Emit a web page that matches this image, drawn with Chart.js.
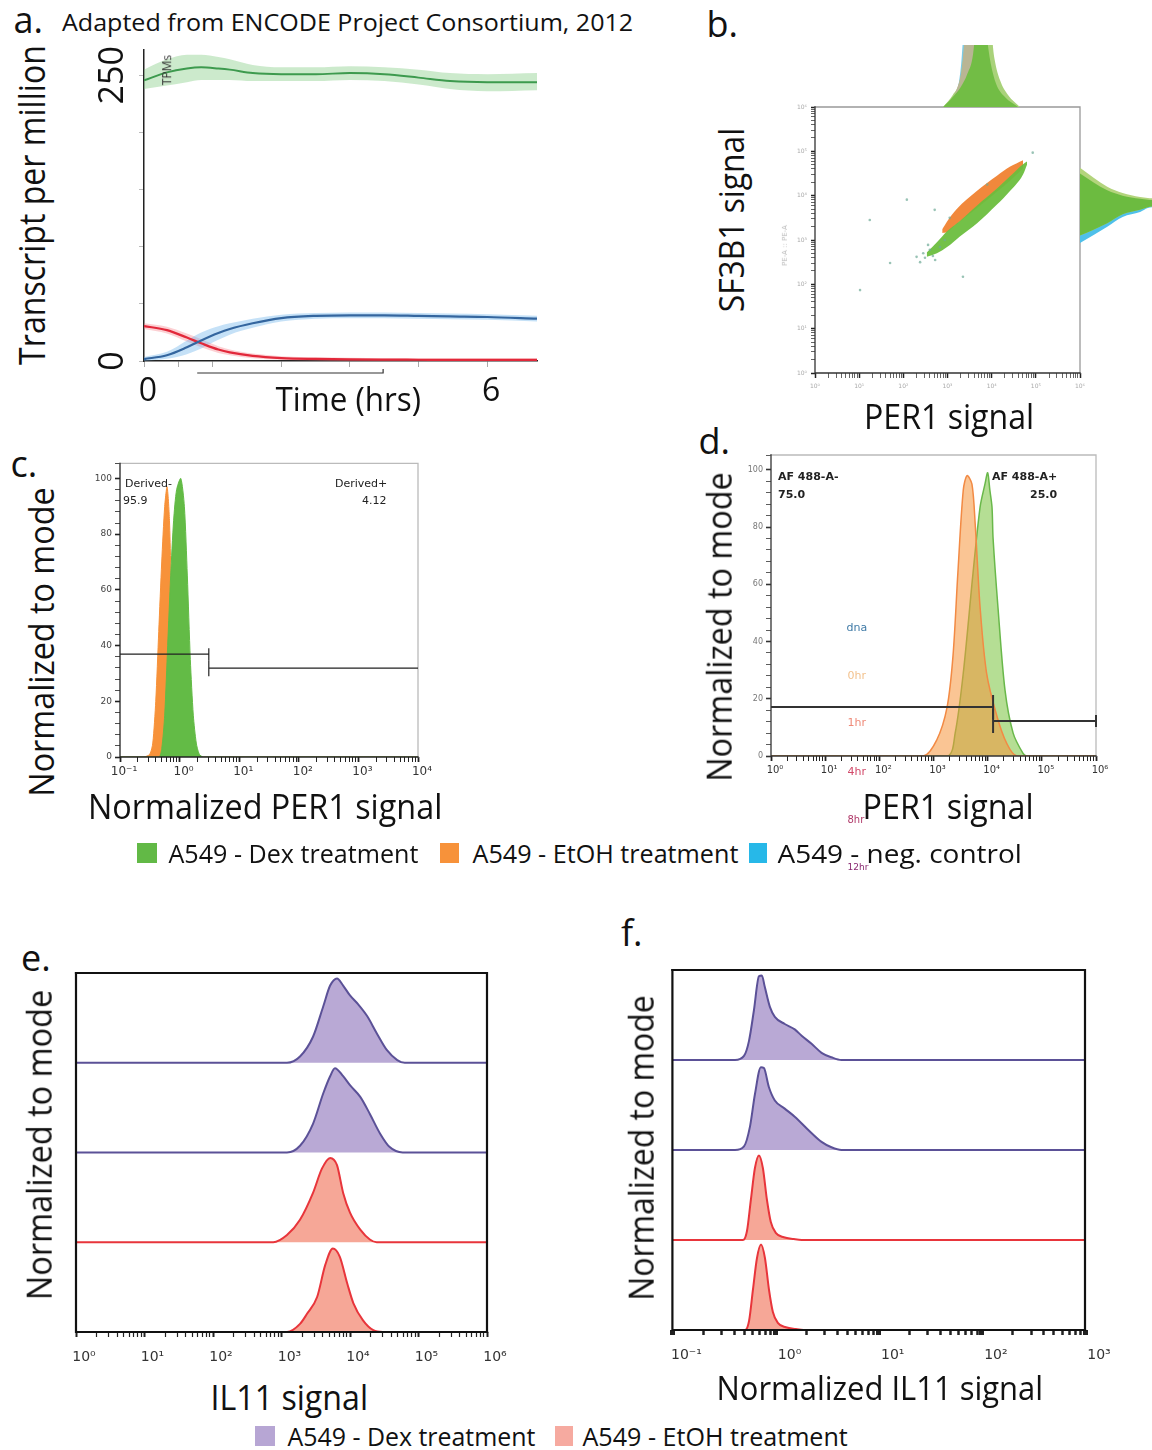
<!DOCTYPE html>
<html><head><meta charset="utf-8">
<script src="https://cdn.jsdelivr.net/npm/chart.js@4.4.0/dist/chart.umd.min.js"></script>
<style>
body{margin:0;background:#fff;width:1152px;height:1450px;position:relative;overflow:hidden;font-family:"Open Sans",sans-serif;color:#111}
canvas{position:absolute}
.t{position:absolute;white-space:nowrap;line-height:1;transform-origin:center center}
.sq{position:absolute}
</style></head><body>
<script>
// ---------- panel a : ENCODE time course (hrs vs TPM) ----------
const aTime     = [0, 0.4, 0.75, 1.0, 1.3, 1.5, 1.9, 2.4, 3.0, 3.6, 4.2, 4.8, 5.35, 6.0, 6.87];
const aGreen    = [245.6, 252.6, 256, 257, 256, 255, 252, 251, 251, 252, 251, 248, 245, 244, 244];
const aGreenHi  = [255, 264, 268, 268, 266, 264, 259, 257, 257, 258, 257, 255, 252, 251, 252];
const aGreenLo  = [238, 241, 244, 246, 246, 246, 245, 245, 245, 246, 245, 242, 238, 236, 237];
const aBlue     = [1.7, 5, 12, 18, 24.5, 28, 33, 37.5, 39.5, 40, 40, 39.5, 39, 38.5, 37];
const aBlueHi   = [3.5, 8, 18, 25, 30.5, 33, 37, 40.5, 42, 42.5, 42.5, 42, 41.5, 41, 39.5];
const aBlueLo   = [0, 2, 6, 11, 18.5, 23, 29, 34.5, 37, 37.5, 37.5, 37, 36.5, 36, 34.5];
const aRed      = [30.6, 27, 20.5, 15.5, 10, 7.5, 4.5, 2.6, 1.8, 1.4, 1.2, 1.1, 1, 1, 1];
const aRedHi    = [33, 30, 24, 19, 13, 10, 6.5, 4.2, 3.3, 2.8, 2.5, 2.4, 2.3, 2.3, 2.3];
const aRedLo    = [28, 24, 17, 12, 7, 5, 2.5, 1, 0.3, 0, 0, 0, 0, 0, 0];
const aTimeTicks = [0, 0.6, 1.2, 2.4, 3.6, 4.8, 6];
const aTimeLabels = {0: '0', 6: '6'};
const aTpmTicks  = [0, 50, 100, 150, 200, 250];
const aTpmLabels = [0, 250];
const aBracket   = [0.93, 4.18];

// ---------- panel b : SF3B1 vs PER1 (log10 exponents) ----------
const bGreenX   = [2.53, 2.76, 2.99, 3.28, 3.67, 4.12, 4.41, 4.71, 4.80];
const bGreenHi  = [2.72, 2.95, 3.20, 3.43, 3.78, 4.16, 4.43, 4.71, 4.77];
const bGreenLo  = [2.62, 2.70, 2.84, 3.08, 3.38, 3.80, 4.10, 4.48, 4.70];
const bOrangeX  = [2.88, 2.99, 3.21, 3.67, 4.12, 4.41, 4.71];
const bOrangeHi = [3.24, 3.42, 3.70, 4.11, 4.45, 4.65, 4.80];
const bOrangeLo = [3.16, 3.18, 3.36, 3.72, 4.09, 4.33, 4.61];
const bDotsX = [1.24, 1.70, 3.35, 1.02, 2.71, 2.08, 4.93, 2.49, 2.60, 2.38, 2.83, 2.67, 2.56, 2.94, 2.45, 2.72, 3.05, 3.9, 2.3];
const bDotsY = [3.45, 2.48, 2.17, 1.87, 3.68, 3.91, 4.97, 2.60, 2.78, 2.50, 2.84, 2.64, 2.89, 3.00, 2.70, 2.55, 3.5, 4.25, 2.62];
// top marginal: PER1 exponent vs relative height
const bTopEnvX  = [2.9, 3.12, 3.28, 3.35, 3.39, 3.6, 3.8, 3.97, 4.03, 4.07, 4.19, 4.37, 4.64];
const bTopEnvH  = [0, 0.18, 0.4, 0.7, 0.9, 1.5, 2.0, 1.5, 0.9, 0.7, 0.4, 0.18, 0];
const bTopBlueX = [3.1, 3.24, 3.31, 3.35, 3.45, 3.6];
const bTopBlueH = [0, 0.3, 0.65, 1.0, 1.4, 0];
const bTopTanX  = [3.0, 3.2, 3.33, 3.37, 3.42, 3.55, 3.7, 3.8, 3.9];
const bTopTanH  = [0, 0.25, 0.6, 0.9, 1.3, 2.0, 1.6, 0.5, 0];
const bTopGrnX  = [2.9, 3.12, 3.3, 3.45, 3.58, 3.65, 3.75, 3.85, 3.92, 3.98, 4.1, 4.3, 4.6];
const bTopGrnH  = [0, 0.15, 0.3, 0.5, 0.8, 1.3, 2.0, 1.3, 0.9, 0.65, 0.35, 0.15, 0];
// right marginal: relative height vs SF3B1 exponent (upper / lower edges)
const bRightH      = [0, 0.39, 0.61, 0.86, 0.97, 1.05];
const bRightEnvTop = [4.63, 4.2, 4.06, 3.97, 3.95, 3.94];
const bRightGrnTop = [4.5, 4.12, 4.0, 3.93, 3.91, 3.9];
const bRightGrnBot = [3.1, 3.38, 3.58, 3.68, 3.74, 3.76];
const bRightBluTop = [3.2, 3.45, 3.62, 3.7, 3.75, 3.77];
const bRightBluBot = [2.93, 3.30, 3.52, 3.63, 3.72, 3.74];

// ---------- panel c : normalized PER1 (exponent, % of mode) ----------
const cOrangeX = [-1, -0.6, -0.5, -0.45, -0.4, -0.35, -0.3, -0.25, -0.21, -0.17, -0.13, -0.1, -0.05, 0, 4];
const cOrangeY = [0, 0, 1, 5, 20, 45, 70, 90, 97, 85, 50, 20, 5, 0, 0];
const cGreenX  = [-1, -0.35, -0.3, -0.25, -0.2, -0.15, -0.1, -0.05, 0.02, 0.08, 0.13, 0.18, 0.23, 0.28, 0.33, 0.4, 4];
const cGreenY  = [0, 0, 3, 15, 40, 65, 85, 96, 100, 90, 65, 35, 15, 5, 1, 0, 0];
const cGates   = [[-1, 0.49, 36.9], [0.49, 4, 31.9]];

// ---------- panel d : PER1 (exponent, % of mode) ----------
const dOrangeX = [0, 2.81, 3.06, 3.25, 3.36, 3.45, 3.55, 3.62, 3.71, 3.77, 3.86, 3.98, 4.17, 4.35, 4.54, 6];
const dOrangeY = [0, 0, 5.6, 17, 35, 64, 93, 98, 95, 81, 52, 29, 14, 4.5, 0, 0];
const dGreenX  = [0, 3.25, 3.4, 3.55, 3.73, 3.86, 3.95, 4.0, 4.04, 4.08, 4.1, 4.19, 4.32, 4.47, 4.65, 4.72, 6];
const dGreenY  = [0, 0, 8, 29, 64, 87, 95, 99, 93, 87, 76, 52, 23, 8, 1, 0, 0];
const dGates   = [[0, 4.1, 17.1], [4.1, 6, 12.2]];

// ---------- panel e : IL11 (exponent, height within row) ----------
const eRow1X = [0, 3.08, 3.27, 3.46, 3.61, 3.71, 3.81, 3.9, 4.0, 4.12, 4.25, 4.39, 4.54, 4.69, 4.8, 6];
const eRow1H = [0, 0, 0.07, 0.29, 0.63, 0.86, 0.94, 0.86, 0.75, 0.65, 0.52, 0.33, 0.14, 0.03, 0, 0];
const eRow2X = [0, 3.08, 3.27, 3.46, 3.61, 3.71, 3.78, 3.9, 4.0, 4.15, 4.29, 4.44, 4.58, 4.77, 6];
const eRow2H = [0, 0, 0.075, 0.32, 0.66, 0.85, 0.94, 0.85, 0.75, 0.62, 0.43, 0.21, 0.06, 0, 0];
const eRow3X = [0, 2.88, 3.08, 3.27, 3.46, 3.59, 3.71, 3.81, 3.9, 4.0, 4.15, 4.29, 4.39, 6];
const eRow3H = [0, 0, 0.08, 0.25, 0.55, 0.82, 0.94, 0.86, 0.55, 0.33, 0.14, 0.03, 0, 0];
const eRow4X = [0, 3.08, 3.27, 3.37, 3.52, 3.64, 3.75, 3.85, 3.96, 4.05, 4.19, 4.34, 4.48, 6];
const eRow4H = [0, 0, 0.09, 0.2, 0.39, 0.75, 0.93, 0.84, 0.54, 0.32, 0.13, 0.02, 0, 0];

// ---------- panel f : normalized IL11 (exponent, height within row) ----------
const fRow1X = [-1, -0.393, -0.306, -0.258, -0.21, -0.161, -0.133, -0.104, -0.055, -0.007, 0.089, 0.186, 0.253, 0.349, 0.446, 0.542, 0.639, 3];
const fRow1H = [0, 0, 0.045, 0.21, 0.55, 0.93, 0.94, 0.81, 0.59, 0.48, 0.40, 0.34, 0.27, 0.18, 0.08, 0.03, 0, 0];
const fRow2X = [-1, -0.393, -0.306, -0.248, -0.2, -0.142, -0.113, -0.065, -0.007, 0.089, 0.186, 0.32, 0.446, 0.542, 0.639, 3];
const fRow2H = [0, 0, 0.04, 0.26, 0.62, 0.92, 0.91, 0.70, 0.55, 0.46, 0.37, 0.22, 0.09, 0.03, 0, 0];
const fRow3X = [-1, -0.316, -0.277, -0.239, -0.2, -0.161, -0.123, -0.084, -0.046, 0.002, 0.08, 0.176, 0.253, 3];
const fRow3H = [0, 0, 0.1, 0.45, 0.8, 0.94, 0.8, 0.45, 0.2, 0.08, 0.03, 0.01, 0, 0];
const fRow4X = [-1, -0.296, -0.257, -0.219, -0.18, -0.141, -0.103, -0.064, -0.026, 0.022, 0.1, 0.196, 0.273, 3];
const fRow4H = [0, 0, 0.1, 0.45, 0.8, 0.95, 0.8, 0.45, 0.2, 0.08, 0.03, 0.01, 0, 0];

// ---------- helpers ----------
const p10 = v => Math.pow(10, v);
const pts = (xs, ys, fx = v => v, fy = v => v) => xs.map((x, i) => ({x: fx(x), y: fy(ys[i])}));
const SUP = {'-': '⁻', '0': '⁰', '1': '¹', '2': '²', '3': '³', '4': '⁴', '5': '⁵', '6': '⁶', '7': '⁷', '8': '⁸', '9': '⁹'};
const isPow = v => { const e = Math.log10(v); return Math.abs(e - Math.round(e)) < 1e-6; };
const powLabel = v => isPow(v) ? '10' + String(Math.round(Math.log10(v))).split('').map(c => SUP[c]).join('') : '';
function logTicks(s) {
  const out = [], lo = Math.floor(Math.log10(s.min) + 1e-9), hi = Math.ceil(Math.log10(s.max) - 1e-9);
  for (let e = lo; e <= hi; e++) for (let k = 1; k < 10; k++) {
    const v = k * Math.pow(10, e);
    if (v >= s.min * 0.999 && v <= s.max * 1.001) out.push({value: v});
  }
  s.ticks = out;
}

function place(box, m) {
  const [l, t, r, b] = box, c = document.createElement('canvas');
  const W = r - l + m[0] + m[2], H = b - t + m[1] + m[3];
  c.width = W; c.height = H;
  Object.assign(c.style, {left: (l - m[0]) + 'px', top: (t - m[1]) + 'px', width: W + 'px', height: H + 'px'});
  document.body.appendChild(c);
  return c;
}
function baseOpts(m, scales, plugins, yShown = true, xShown = true) {
  return {
    responsive: false, animation: false, events: [],
    layout: {padding: {left: yShown ? 0 : m[0], top: m[1], right: m[2], bottom: xShown ? 0 : m[3]}},
    plugins: Object.assign({legend: {display: false}, tooltip: {enabled: false}}, plugins),
    elements: {point: {radius: 0}},
    scales
  };
}
function logX(m, min, max, font, lblOff, tickW, pad = 3) {
  return {type: 'logarithmic', min, max, afterBuildTicks: logTicks, afterFit: s => { s.height = m[3]; },
    border: {display: false},
    grid: {drawOnChartArea: false, tickLength: 5, tickColor: '#222', tickWidth: c => (c.tick && isPow(c.tick.value)) ? tickW[0] : tickW[1]},
    ticks: {autoSkip: false, maxRotation: 0, padding: pad, labelOffset: lblOff, color: '#333', font, callback: v => powLabel(v)}};
}

// frame around chart area: top/right in one colour, left/bottom (axes) in another
const frame = {id: 'frame', afterDatasetsDraw(ch, a, o) {
  if (!o.width) return;
  const {left, top, right, bottom} = ch.chartArea, c = ch.ctx;
  c.save(); c.lineWidth = o.width; c.lineCap = 'square';
  if (o.color) { c.strokeStyle = o.color; c.beginPath(); c.moveTo(left, top); c.lineTo(right, top); c.lineTo(right, bottom); c.stroke(); }
  c.strokeStyle = o.axis; c.beginPath(); c.moveTo(left, top); c.lineTo(left, bottom); c.lineTo(right, bottom); c.stroke();
  c.restore();
}};
// FlowJo style gates
const gates = {id: 'gates', afterDatasetsDraw(ch, a, o) {
  if (!o.list) return;
  const xs = ch.scales.x, ys = ch.scales.y, c = ch.ctx;
  c.save(); c.strokeStyle = o.color; c.lineWidth = o.width;
  o.list.forEach((g, i) => {
    const x1 = xs.getPixelForValue(p10(g[0])), x2 = xs.getPixelForValue(p10(g[1])), y = ys.getPixelForValue(g[2]), cap = o.caps[i];
    c.beginPath(); c.moveTo(x1, y); c.lineTo(x2, y);
    if (cap[0]) { c.moveTo(x1, y - cap[0]); c.lineTo(x1, y + cap[0]); }
    if (cap[1]) { c.moveTo(x2, y - cap[1]); c.lineTo(x2, y + cap[1]); }
    c.stroke();
  });
  c.restore();
}};
// panel a: bracket under the time axis and rotated y labels
const aExtras = {id: 'aExtras', afterDraw(ch, a, o) {
  if (!o.bracket) return;
  const xs = ch.scales.x, ys = ch.scales.y, c = ch.ctx, area = ch.chartArea;
  c.save(); c.strokeStyle = '#333'; c.lineWidth = 1.2;
  const x1 = xs.getPixelForValue(o.bracket[0]), x2 = xs.getPixelForValue(o.bracket[1]), y = area.bottom + o.gap;
  c.beginPath(); c.moveTo(x1, y); c.lineTo(x2, y); c.lineTo(x2, y - 4); c.stroke();
  c.fillStyle = '#111'; c.font = o.font; c.textAlign = 'center'; c.textBaseline = 'middle';
  o.values.forEach(v => {
    c.save(); c.translate(area.left + o.dx, ys.getPixelForValue(v)); c.rotate(-Math.PI / 2); c.fillText(String(v), 0, 0); c.restore();
  });
  c.restore();
}};
const PLUGS = [frame, gates, aExtras];

function label(txt, cx, cy, size, w, o = {}) {
  const d = document.createElement('div');
  d.className = 't'; d.textContent = txt; d.style.fontSize = size + 'px';
  if (o.color) d.style.color = o.color;
  if (o.font) d.style.fontFamily = o.font;
  if (o.weight) d.style.fontWeight = o.weight;
  document.body.appendChild(d);
  const mw = d.offsetWidth, mh = d.offsetHeight, sx = w ? w / mw : 1;
  let left = cx - mw / 2;
  if (o.align === 'left') left = cx - mw / 2 + mw * sx / 2;
  if (o.align === 'right') left = cx - mw / 2 - mw * sx / 2;
  d.style.left = left + 'px'; d.style.top = (cy - mh / 2) + 'px';
  d.style.transform = `rotate(${o.rot || 0}deg) scaleX(${sx})`;
}
function square(x, y, w, h, color) {
  const d = document.createElement('div'); d.className = 'sq';
  Object.assign(d.style, {left: x + 'px', top: y + 'px', width: w + 'px', height: h + 'px', background: color});
  document.body.appendChild(d);
}
const band = (d, fill, color) => ({data: d, fill, backgroundColor: color, borderWidth: 0, pointRadius: 0, order: 2, cubicInterpolationMode: 'monotone'});
const curve = (d, color, w) => ({data: d, fill: false, borderColor: color, borderWidth: w, pointRadius: 0, order: 0, cubicInterpolationMode: 'monotone'});

// ---------- panel a ----------
{
  const m = [84, 10, 20, 60];
  new Chart(place([144, 50, 537, 361], m), {
    type: 'line',
    data: {datasets: [
      band(pts(aTime, aGreenHi), '+1', 'rgba(120,200,120,0.38)'),
      band(pts(aTime, aGreenLo), false, 'rgba(0,0,0,0)'),
      band(pts(aTime, aBlueHi), '+1', 'rgba(110,180,235,0.4)'),
      band(pts(aTime, aBlueLo), false, 'rgba(0,0,0,0)'),
      band(pts(aTime, aRedHi), '+1', 'rgba(245,120,130,0.35)'),
      band(pts(aTime, aRedLo), false, 'rgba(0,0,0,0)'),
      curve(pts(aTime, aGreen), '#3d9a4e', 2),
      curve(pts(aTime, aBlue), '#34669f', 2.2),
      curve(pts(aTime, aRed), '#e2283a', 2.2)
    ]},
    options: baseOpts(m, {
      x: {type: 'linear', min: 0, max: 6.87, afterBuildTicks: s => { s.ticks = aTimeTicks.map(v => ({value: v})); },
        afterFit: s => { s.height = m[3]; },
        border: {color: '#222', width: 1.5},
        grid: {drawOnChartArea: false, tickLength: 6, tickColor: '#aaa'},
        ticks: {autoSkip: false, maxRotation: 0, padding: 6, labelOffset: 4, color: '#111', font: {family: 'Open Sans', size: 32}, callback: v => aTimeLabels[v] || ''}},
      y: {type: 'linear', min: 0, max: 272, afterBuildTicks: s => { s.ticks = aTpmTicks.map(v => ({value: v})); },
        afterFit: s => { s.width = m[0]; },
        border: {color: '#222', width: 1.5},
        grid: {drawOnChartArea: false, tickLength: 5, tickColor: '#bbb'},
        ticks: {callback: () => ''}}
    }, {aExtras: {bracket: aBracket, gap: 12, values: aTpmLabels, dx: -31, font: '34px "Open Sans"'}}),
    plugins: PLUGS
  });
}

// ---------- panel b ----------
{
  const m = [40, 8, 12, 25];
  const tiny = {family: 'DejaVu Sans', size: 6};
  const cloud = (xs, ys, fill, color, order) => ({data: pts(xs, ys, p10, p10), fill, backgroundColor: color, borderWidth: 0, pointRadius: 0, order, cubicInterpolationMode: 'monotone'});
  new Chart(place([815, 107, 1080, 373], m), {
    type: 'line',
    data: {datasets: [
      cloud(bOrangeX, bOrangeHi, '+1', 'rgba(240,130,50,0.95)', 2),
      cloud(bOrangeX, bOrangeLo, false, 'rgba(0,0,0,0)', 2),
      cloud(bGreenX, bGreenHi, '+1', 'rgba(108,190,62,0.95)', 1),
      cloud(bGreenX, bGreenLo, false, 'rgba(0,0,0,0)', 1),
      {data: pts(bDotsX, bDotsY, p10, p10), showLine: false, pointRadius: 1.3, pointBorderWidth: 0, pointBackgroundColor: 'rgba(110,170,150,0.7)', order: 0}
    ]},
    options: baseOpts(m, {
      x: Object.assign(logX(m, 1, 1e6, tiny, 0, [1.5, 0.7]), {ticks: {autoSkip: false, maxRotation: 0, padding: 5, color: '#aaa', font: tiny, callback: v => powLabel(v)}}),
      y: {type: 'logarithmic', min: 1, max: 1e6, afterBuildTicks: logTicks, afterFit: s => { s.width = m[0]; },
        border: {display: false},
        grid: {drawOnChartArea: false, tickLength: 4, tickColor: '#222', tickWidth: c => (c.tick && isPow(c.tick.value)) ? 1.5 : 0.7},
        ticks: {autoSkip: false, padding: 4, color: '#aaa', font: tiny, callback: v => powLabel(v)}}
    }, {frame: {width: 1.3, color: '#999', axis: '#333'}}),
    plugins: PLUGS
  });
  // top marginal histogram
  const hist = (xs, hs, color, order) => ({data: pts(xs, hs, p10), fill: 'origin', backgroundColor: color, borderWidth: 0, pointRadius: 0, order, cubicInterpolationMode: 'monotone'});
  new Chart(place([815, 45, 1080, 107], [0, 0, 0, 0]), {
    type: 'line',
    data: {datasets: [
      hist(bTopGrnX, bTopGrnH, '#72bd45', 0),
      hist(bTopTanX, bTopTanH, '#b9b594', 1),
      hist(bTopEnvX, bTopEnvH, '#a9d27a', 2),
      hist(bTopBlueX, bTopBlueH, '#7ccbe6', 3)
    ]},
    options: baseOpts([0, 0, 0, 0], {
      x: {type: 'logarithmic', min: 1, max: 1e6, display: false},
      y: {type: 'linear', min: 0, max: 0.93, display: false}
    }, {}, false, false),
    plugins: PLUGS
  });
  // right marginal histogram
  const side = (ys, fill, color, order) => ({data: pts(bRightH, ys, v => v, p10), fill, backgroundColor: color, borderWidth: 0, pointRadius: 0, order, cubicInterpolationMode: 'monotone'});
  new Chart(place([1080, 107, 1152, 373], [0, 0, 0, 0]), {
    type: 'line',
    data: {datasets: [
      side(bRightGrnTop, '+1', '#6cbb40', 0),
      side(bRightGrnBot, false, 'rgba(0,0,0,0)', 0),
      side(bRightEnvTop, '+1', '#b3d47c', 1),
      side(bRightGrnBot, false, 'rgba(0,0,0,0)', 1),
      side(bRightBluTop, '+1', '#4fc0ea', 2),
      side(bRightBluBot, false, 'rgba(0,0,0,0)', 2)
    ]},
    options: baseOpts([0, 0, 0, 0], {
      x: {type: 'linear', min: 0, max: 1.03, display: false},
      y: {type: 'logarithmic', min: 1, max: 1e6, display: false}
    }, {}, false, false),
    plugins: PLUGS
  });
}

// ---------- panel c ----------
{
  const m = [35, 8, 20, 30];
  const histo = (xs, ys, fillC, lineC, order) => ({data: pts(xs, ys, p10), fill: 'origin', backgroundColor: fillC, borderColor: lineC, borderWidth: 1, pointRadius: 0, order, tension: 0.25});
  new Chart(place([120, 463, 418, 757], m), {
    type: 'line',
    data: {datasets: [
      histo(cGreenX, cGreenY, '#63bb46', '#63bb46', 0),
      histo(cOrangeX, cOrangeY, '#f7923a', '#f7923a', 1)
    ]},
    options: baseOpts(m, {
      x: logX(m, 0.1, 1e4, {family: 'DejaVu Sans', size: 12}, 4, [1.8, 1]),
      y: {type: 'linear', min: 0, max: 105.4, afterFit: s => { s.width = m[0]; },
        border: {display: false},
        grid: {drawOnChartArea: false, tickLength: 5, tickColor: '#222', tickWidth: c => (c.tick && c.tick.value % 20 === 0) ? 1.6 : 0.8},
        ticks: {stepSize: 4, autoSkip: false, padding: 3, color: '#444', font: {family: 'DejaVu Sans', size: 9}, callback: v => v % 20 === 0 ? v : ''}}
    }, {frame: {width: 1.3, color: '#bbb', axis: '#222'}, gates: {list: cGates, caps: [[0, 6], [8, 0]], color: '#222', width: 1.2}}),
    plugins: PLUGS
  });
}

// ---------- panel d ----------
{
  const m = [35, 8, 20, 30];
  const histo = (xs, ys, fillC, lineC, order) => ({data: pts(xs, ys, p10), fill: 'origin', backgroundColor: fillC, borderColor: lineC, borderWidth: 1.5, pointRadius: 0, order, tension: 0.3});
  new Chart(place([771, 455, 1096, 756], m), {
    type: 'line',
    data: {datasets: [
      histo(dOrangeX, dOrangeY, 'rgba(245,150,60,0.55)', '#f28a44', 0),
      histo(dGreenX, dGreenY, 'rgba(120,195,60,0.55)', '#69b84a', 1)
    ]},
    options: baseOpts(m, {
      x: logX(m, 1, 1e6, {family: 'DejaVu Sans', size: 10}, 4, [1.8, 1]),
      y: {type: 'linear', min: 0, max: 105.2, afterFit: s => { s.width = m[0]; },
        border: {display: false},
        grid: {drawOnChartArea: false, tickLength: 5, tickColor: '#333', tickWidth: c => (c.tick && c.tick.value % 20 === 0) ? 1.6 : 0.8},
        ticks: {stepSize: 4, autoSkip: false, padding: 3, color: '#777', font: {family: 'DejaVu Sans', size: 8}, callback: v => v % 20 === 0 ? v : ''}}
    }, {frame: {width: 1.3, color: '#bbb', axis: '#333'}, gates: {list: dGates, caps: [[0, 12], [12, 6]], color: '#333', width: 2}}),
    plugins: PLUGS
  });
}

// ---------- panels e / f : stacked ridgelines ----------
function ridge(box, min, max, rows, lblOff, tickW) {
  const m = [25, 8, 25, 40];
  const purple = ['#b9a9d5', '#5b5197'], red = ['#f6a797', '#e8353b'];
  const sets = rows.map((r, i) => {
    const base = 3 - i, col = i < 2 ? purple : red;
    return {data: pts(r[0], r[1], p10, h => h + base), fill: {value: base}, backgroundColor: col[0], borderColor: col[1], borderWidth: 2, pointRadius: 0, cubicInterpolationMode: 'monotone'};
  });
  new Chart(place(box, m), {
    type: 'line',
    data: {datasets: sets},
    options: baseOpts(m, {
      x: logX(m, min, max, {family: 'DejaVu Sans', size: 14}, lblOff, tickW, 12),
      y: {type: 'linear', min: 0, max: 4, display: false}
    }, {frame: {width: 2.2, color: '#111', axis: '#111'}}, false, true),
    plugins: PLUGS
  });
}
ridge([76, 973, 487, 1332], 1, 1e6, [[eRow1X, eRow1H], [eRow2X, eRow2H], [eRow3X, eRow3H], [eRow4X, eRow4H]], 8, [2, 1.2]);
ridge([670, 970, 1085, 1330], 0.1, 1e3, [[fRow1X, fRow1H], [fRow2X, fRow2H], [fRow3X, fRow3H], [fRow4X, fRow4H]], 14, [5, 2.5]);

// ---------- text ----------
label('a.', 28, 20, 36, 0);
label('Adapted from ENCODE Project Consortium, 2012', 347, 22, 24, 571);
label('Transcript per million', 32, 205, 36, 320, {rot: -90});
label('TPMs', 167, 70, 12, 0, {rot: -90, color: '#333'});
label('Time (hrs)', 348, 399, 32, 145);

label('b.', 722, 24, 36, 0);
label('SF3B1 signal', 730, 220, 34, 184, {rot: -90});
label('PER1 signal', 949, 416, 34, 170);
label('PE-A :: PE-A', 785, 245, 7, 0, {rot: -90, color: '#bbb', font: 'DejaVu Sans'});

label('c.', 24, 464, 36, 0);
label('Normalized to mode', 40, 642, 34, 309, {rot: -90});
label('Normalized PER1 signal', 265, 806, 34, 354);
label('Derived-', 125, 483, 11, 0, {align: 'left', font: 'DejaVu Sans', color: '#222'});
label('95.9', 123, 500, 11, 0, {align: 'left', font: 'DejaVu Sans', color: '#222'});
label('Derived+', 387, 483, 11, 0, {align: 'right', font: 'DejaVu Sans', color: '#222'});
label('4.12', 387, 500, 11, 0, {align: 'right', font: 'DejaVu Sans', color: '#222'});

label('d.', 714, 441, 36, 0);
label('Normalized to mode', 718, 627, 34, 309, {rot: -90});
label('PER1 signal', 948, 806, 34, 171);
label('AF 488-A-', 778, 476, 11, 0, {align: 'left', font: 'DejaVu Sans', color: '#222', weight: 'bold'});
label('75.0', 778, 494, 11, 0, {align: 'left', font: 'DejaVu Sans', color: '#222', weight: 'bold'});
label('AF 488-A+', 1057, 476, 11, 0, {align: 'right', font: 'DejaVu Sans', color: '#222', weight: 'bold'});
label('25.0', 1057, 494, 11, 0, {align: 'right', font: 'DejaVu Sans', color: '#222', weight: 'bold'});
label('dna', 857, 627, 11, 0, {color: '#3f7aa6', font: 'DejaVu Sans'});
label('0hr', 857, 675, 11, 0, {color: '#f3c28e', font: 'DejaVu Sans'});
label('1hr', 857, 722, 11, 0, {color: '#ef8a78', font: 'DejaVu Sans'});
label('4hr', 857, 771, 11, 0, {color: '#d24a6a', font: 'DejaVu Sans'});
label('8hr', 856, 820, 10, 0, {color: '#b03a6a', font: 'DejaVu Sans'});
label('12hr', 858, 867, 9, 0, {color: '#8a2a72', font: 'DejaVu Sans'});

square(137, 843, 20, 20, '#62b946');
label('A549 - Dex treatment', 293, 853, 26, 250, {});
square(440, 843, 19, 20, '#f7923a');
label('A549 - EtOH treatment', 605, 853, 26, 266, {});
square(749, 843, 18, 20, '#27b8e8');
label('A549 - neg. control', 899, 853, 26, 244, {});

label('e.', 36, 958, 36, 0);
label('Normalized to mode', 38, 1145, 34, 310, {rot: -90});
label('IL11 signal', 289, 1397, 34, 158);

label('f.', 632, 933, 36, 0);
label('Normalized to mode', 640, 1148, 34, 305, {rot: -90});
label('Normalized IL11 signal', 880, 1388, 32, 327);

square(255, 1426, 20, 20, '#b7a6d4');
label('A549 - Dex treatment', 411, 1436, 25, 248, {});
square(555, 1426, 18, 20, '#f6aaa0');
label('A549 - EtOH treatment', 715, 1436, 25, 265, {});
</script>
</body></html>
